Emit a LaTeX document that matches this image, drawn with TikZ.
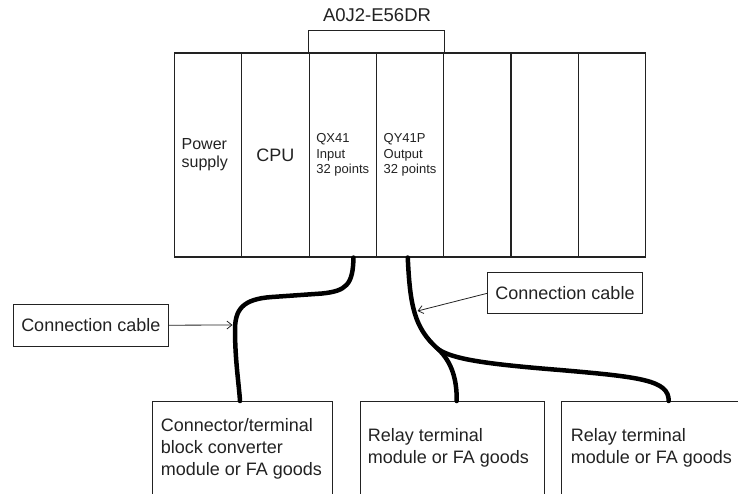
\documentclass[tikz,border=0pt]{standalone}
\usepackage{fontspec}
\setmainfont{Liberation Sans}
\usetikzlibrary{arrows.meta,calc}
\definecolor{ink}{HTML}{222222}
\begin{document}
\begin{tikzpicture}[x=1pt,y=-1pt,
  slot/.style={draw=ink, line width=1.1pt, minimum width=67.3pt, minimum height=204pt, inner sep=0pt, text=ink},
  slottxt/.style={align=left, font=\fontsize{13}{15.8}\selectfont},
  box/.style={draw=ink, line width=1pt, inner sep=0pt, text=ink},
  boxtxt/.style={anchor=north west, inner sep=0pt, align=left, text=ink, font=\fontsize{18}{22}\selectfont},
  cable/.style={line width=4.5pt, line cap=round, line join=round, draw=black},
  pointer/.style={draw=ink, line width=0.8pt, -{Straight Barb[length=5pt,width=8pt]}}]
\useasboundingbox (0,0) rectangle (738,494);
\clip (0,0) rectangle (738,494);

% rack slots
\node[slot, text width=53pt, align=left, font=\fontsize{16}{17.8}\selectfont] (s1) at (208.15,155) {Power\\supply};
\node[slot, font=\fontsize{18}{22}\selectfont] (s2) at (275.45,155) {CPU};
\node[slot, slottxt] (s3) at (342.75,155) {QX41\\Input\\32 points};
\node[slot, slottxt] (s4) at (410.05,155) {QY41P\\Output\\32 points};
\node[slot] (s5) at (477.35,155) {};
\node[slot] (s6) at (544.65,155) {};
\node[slot] (s7) at (611.95,155) {};

% bracket and label
\draw[ink, line width=1.1pt] (s3.north west) -- ++(0,-22.3) -| (s4.north east);
\node[anchor=base, inner sep=0pt, text=ink, font=\fontsize{18.5}{21}\selectfont] (lab) at (377,21.7) {A0J2-E56DR};

% connection cable labels
\node[box, minimum width=155pt, minimum height=41.7pt, font=\fontsize{18}{22}\selectfont] (cc1) at (90.8,325.2) {Connection cable};
\node[box, minimum width=154.6pt, minimum height=41.3pt, font=\fontsize{18}{22}\selectfont] (cc2) at (565,293.3) {Connection cable};

% bottom boxes
\node[box, minimum width=180pt, minimum height=98.5pt] (b1) at (242.3,450.75) {};
\node[box, minimum width=183.6pt, minimum height=98.5pt] (b2) at (452.5,450.75) {};
\node[box, minimum width=183.3pt, minimum height=98.5pt] (b3) at (653.35,450.75) {};
\node[boxtxt] (b1t) at (160.7,418) {Connector/terminal\\block converter\\module or FA goods};
\node[boxtxt] (b2t) at (367.7,428) {Relay terminal\\module or FA goods};
\node[boxtxt] (b3t) at (570.7,428) {Relay terminal\\module or FA goods};

% cable anchor points
\coordinate (c1top) at ($(s3.south)+(10.7,0)$);
\coordinate (c2top) at ($(s4.south)+(-2.3,0)$);
\coordinate (c1end) at ($(b1.north)+(-2.3,0)$);
\coordinate (c2end) at ($(b2.north)+(4.2,0)$);
\coordinate (c3end) at ($(b3.north west)+(107.5,0)$);
\coordinate (j) at (438,349);
\coordinate (a1) at (232.5,325);
\coordinate (a2) at (417.5,311);

% cables
\draw[cable] (c1top) .. controls (353,285) and (346,291) .. (322,293.5)
  -- (272,297) .. controls (242,299) and (235,310) .. (235,330)
  .. controls (235,360) and (239,385) .. (c1end);
\draw[cable] (c2top) .. controls (410,305) and (414,328) .. (j)
  .. controls (452,362) and (457,380) .. (c2end);
\draw[cable] (j) .. controls (452,359) and (485,364) .. (560,370)
  .. controls (640,377) and (669,380) .. (c3end);

% pointers
\draw[pointer] (cc1.east) -- (a1);
\draw[pointer] (cc2.west) -- (a2);
\end{tikzpicture}
\end{document}
